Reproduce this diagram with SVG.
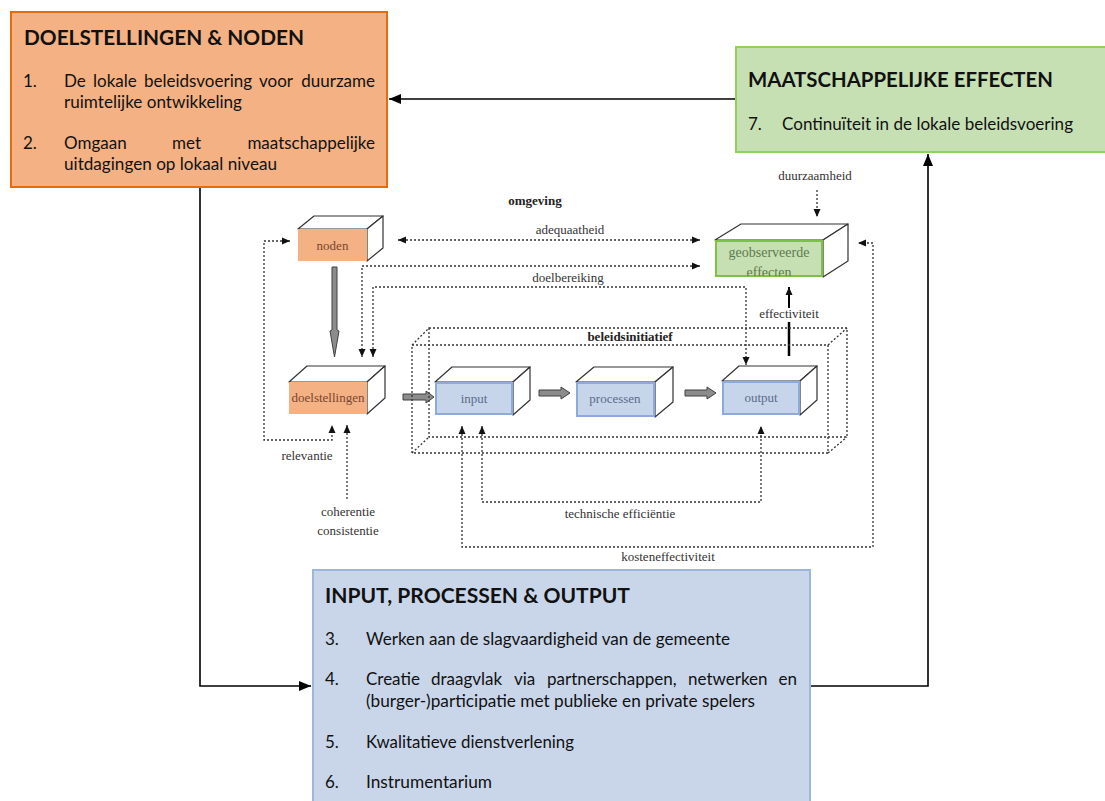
<svg xmlns="http://www.w3.org/2000/svg" width="1105" height="801" viewBox="0 0 1105 801">
<defs>
<style>
.big{font-family:Lato,"Open Sans","Liberation Sans",sans-serif;fill:#111}
.ttl{font-size:21px;font-weight:bold}
.bd{font-size:17px}
.sr{font-family:"Liberation Serif","Times New Roman",serif;font-size:13px;fill:#333;text-anchor:middle}
.b{font-weight:bold;fill:#222}
.dot{fill:none;stroke:#333;stroke-width:1.3;stroke-dasharray:2 2}
.sol{fill:none;stroke:#000;stroke-width:1.6}
.edge{fill:#fff;stroke:#333;stroke-width:1.2;stroke-linejoin:round}
.ga{fill:#8c8c8c;stroke:#404040;stroke-width:1}
</style>
<marker id="ah" viewBox="0 0 8 8" refX="8" refY="4" markerWidth="8" markerHeight="8" markerUnits="userSpaceOnUse" orient="auto-start-reverse"><path d="M0,0.5 L8,4 L0,7.5 z" fill="#111"/></marker>
<marker id="big" viewBox="0 0 12 10" refX="12" refY="5" markerWidth="12" markerHeight="10" markerUnits="userSpaceOnUse" orient="auto"><path d="M0,0 L12,5 L0,10 z" fill="#000"/></marker>
<clipPath id="geoclip"><rect x="716" y="241" width="106" height="35"/></clipPath>
</defs>
<rect width="1105" height="801" fill="#fff"/>

<g id="connectors">
<path class="sol" d="M735,99 H389" marker-end="url(#big)"/>
<path class="sol" d="M200,187 V686 H311" marker-end="url(#big)"/>
<path class="sol" d="M810,686 H928 V154" marker-end="url(#big)"/>
<path class="dot" d="M398,240 H700" marker-start="url(#ah)" marker-end="url(#ah)"/>
<path class="dot" d="M290,241 H264 V440 H332 V425" marker-start="url(#ah)" marker-end="url(#ah)"/>
<path class="dot" d="M700,266 H362 V357" marker-start="url(#ah)" marker-end="url(#ah)"/>
<path class="dot" d="M373,357 V287 H746 V365" marker-start="url(#ah)" marker-end="url(#ah)"/>
<path class="dot" d="M347,425 V500" marker-start="url(#ah)"/>
<path class="dot" d="M482,426 V502 H761 V426" marker-start="url(#ah)" marker-end="url(#ah)"/>
<path class="dot" d="M462,426 V547 H873 V243 H858" marker-start="url(#ah)" marker-end="url(#ah)"/>
<path class="dot" d="M817,190 V217" marker-end="url(#ah)"/>
<path class="sol" d="M789,356 V322" style="stroke-width:2.5"/>
<path class="sol" d="M789,308 V287" style="stroke-width:2" marker-end="url(#ah)"/>
<polygon class="ga" points="332,267 337,267 337,330 339,331 334.5,357 330,331 332,330"/>
<polygon class="ga" points="403,394 426,394 426,391 434,397 426,403 426,400 403,400"/>
<polygon class="ga" points="539,390 561,390 561,387 570,393 561,399 561,396 539,396"/>
<polygon class="ga" points="685,390 707,390 707,387 716,393 707,399 707,396 685,396"/>
</g>

<g id="beleidsinitiatief">
<path class="dot" d="M429,328 H847 V437 H429 Z"/>
<path class="dot" d="M412,345 H828 V453 H412 Z"/>
<path class="dot" d="M412,345 L429,328 M828,345 L847,328 M412,453 L429,437 M828,453 L847,437"/>
<text class="sr b" x="630" y="341">beleidsinitiatief</text>
</g>

<g id="doelstellingen-noden">
<rect x="11" y="12" width="376" height="175" fill="#F4B183" stroke="#E46C0A" stroke-width="2"/>
<text class="big ttl" x="24" y="45" textLength="280" lengthAdjust="spacingAndGlyphs">DOELSTELLINGEN &amp; NODEN</text>
<text class="big bd" x="23" y="87">1.</text>
<text class="big bd" x="64" y="87">De</text>
<text class="big bd" x="93" y="87">lokale</text>
<text class="big bd" x="144" y="87">beleidsvoering</text>
<text class="big bd" x="259" y="87">voor</text>
<text class="big bd" x="375" y="87" text-anchor="end">duurzame</text>
<text class="big bd" x="64" y="108" textLength="178" lengthAdjust="spacingAndGlyphs">ruimtelijke ontwikkeling</text>
<text class="big bd" x="23" y="149">2.</text>
<text class="big bd" x="64" y="149">Omgaan</text>
<text class="big bd" x="172" y="149">met</text>
<text class="big bd" x="375" y="149" text-anchor="end">maatschappelijke</text>
<text class="big bd" x="64" y="170" textLength="213" lengthAdjust="spacingAndGlyphs">uitdagingen op lokaal niveau</text>
</g>

<g id="maatschappelijke-effecten">
<rect x="736" y="47" width="380" height="105" fill="#C6E0B4" stroke="#8FD15C" stroke-width="2"/>
<text class="big ttl" x="748" y="87" textLength="305" lengthAdjust="spacingAndGlyphs">MAATSCHAPPELIJKE EFFECTEN</text>
<text class="big bd" x="748" y="130">7.</text>
<text class="big bd" x="782" y="130" textLength="291" lengthAdjust="spacingAndGlyphs">Continuïteit in de lokale beleidsvoering</text>
</g>

<g id="input-processen-output">
<rect x="313" y="570" width="497" height="245" fill="#C9D6EA" stroke="#9DB7DB" stroke-width="2"/>
<text class="big ttl" x="325" y="603" textLength="305" lengthAdjust="spacingAndGlyphs">INPUT, PROCESSEN &amp; OUTPUT</text>
<text class="big bd" x="325" y="645">3.</text>
<text class="big bd" x="366" y="645" textLength="364" lengthAdjust="spacingAndGlyphs">Werken aan de slagvaardigheid van de gemeente</text>
<text class="big bd" x="325" y="685">4.</text>
<text class="big bd" x="366" y="685">Creatie</text>
<text class="big bd" x="431" y="685">draagvlak</text>
<text class="big bd" x="514" y="685">via</text>
<text class="big bd" x="547" y="685">partnerschappen,</text>
<text class="big bd" x="688" y="685">netwerken</text>
<text class="big bd" x="797" y="685" text-anchor="end">en</text>
<text class="big bd" x="366" y="707" textLength="389" lengthAdjust="spacingAndGlyphs">(burger-)participatie met publieke en private spelers</text>
<text class="big bd" x="325" y="748">5.</text>
<text class="big bd" x="366" y="748" textLength="208" lengthAdjust="spacingAndGlyphs">Kwalitatieve dienstverlening</text>
<text class="big bd" x="325" y="788">6.</text>
<text class="big bd" x="366" y="788" textLength="126" lengthAdjust="spacingAndGlyphs">Instrumentarium</text>
</g>

<g id="noden">
<polygon class="edge" points="298,229 314,216 383,216 367,229"/>
<polygon class="edge" points="367,229 383,216 383,248 367,261"/>
<rect x="298" y="229" width="69" height="32" fill="#F4B183"/>
<text class="sr" x="332.5" y="250" style="fill:#7a4630">noden</text>
</g>

<g id="doelstellingen">
<polygon class="edge" points="289,382 307,366 385,366 367,382"/>
<polygon class="edge" points="367,382 385,366 385,398 367,414"/>
<rect x="289" y="382" width="78" height="32" fill="#F4B183"/>
<text class="sr" x="328" y="402" style="fill:#7a4630">doelstellingen</text>
</g>

<g id="input">
<polygon class="edge" points="435,382 452,367 530,367 513,382"/>
<polygon class="edge" points="513,382 530,367 530,400 513,415"/>
<rect x="436" y="383" width="76" height="31" fill="#C6D5EA" stroke="#8EAADB" stroke-width="2"/>
<text class="sr" x="474" y="403" style="fill:#5d6b8a">input</text>
</g>

<g id="processen">
<polygon class="edge" points="576,382 594,367 673,367 655,382"/>
<polygon class="edge" points="655,382 673,367 673,402 655,417"/>
<rect x="577" y="383" width="77" height="33" fill="#C6D5EA" stroke="#8EAADB" stroke-width="2"/>
<text class="sr" x="615" y="403" style="fill:#5d6b8a">processen</text>
</g>

<g id="output">
<polygon class="edge" points="722,381 739,366 817,366 800,381"/>
<polygon class="edge" points="800,381 817,366 817,400 800,415"/>
<rect x="723" y="382" width="76" height="32" fill="#C6D5EA" stroke="#8EAADB" stroke-width="2"/>
<text class="sr" x="761" y="402" style="fill:#5d6b8a">output</text>
</g>

<g id="geobserveerde-effecten">
<polygon class="edge" points="715,240 741,224 848,224 823,240"/>
<polygon class="edge" points="823,240 848,224 848,261 823,277"/>
<rect x="716" y="241" width="106" height="35" fill="#C6E0B4" stroke="#7DC242" stroke-width="2"/>
<g clip-path="url(#geoclip)">
<text class="sr" x="769" y="257" style="fill:#5e7a4e;font-size:14px">geobserveerde</text>
<text class="sr" x="769" y="277" style="fill:#5e7a4e;font-size:14px">effecten</text>
</g>
</g>

<g id="labels">
<text class="sr b" x="535" y="205">omgeving</text>
<text class="sr" x="570" y="234">adequaatheid</text>
<text class="sr" x="568" y="282">doelbereiking</text>
<text class="sr" x="815" y="180">duurzaamheid</text>
<text class="sr" x="789" y="318">effectiviteit</text>
<text class="sr" x="307" y="460">relevantie</text>
<text class="sr" x="348" y="516">coherentie</text>
<text class="sr" x="348" y="535">consistentie</text>
<text class="sr" x="620" y="518">technische efficiëntie</text>
<text class="sr" x="668" y="561">kosteneffectiviteit</text>
</g>
</svg>
